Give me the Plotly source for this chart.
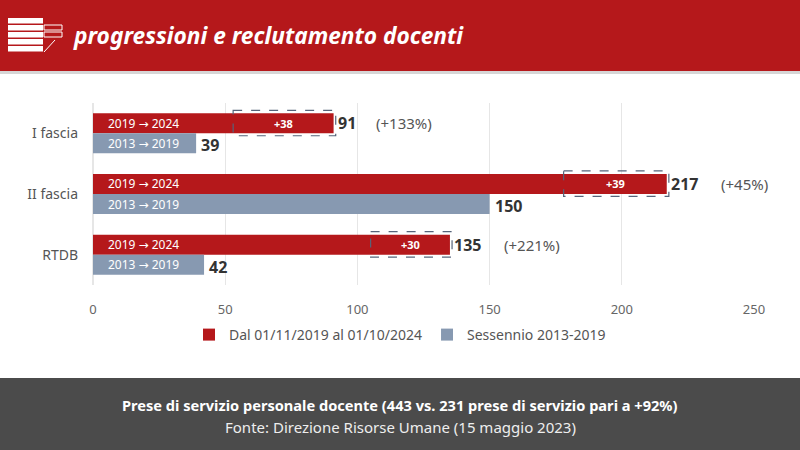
import plotly.graph_objects as go

categories = ["I fascia", "II fascia", "RTDB"]
recent_name = "Dal 01/11/2019 al 01/10/2024"
old_name = "Sessennio 2013-2019"
recent_values = [91, 217, 135]
old_values = [39, 150, 42]
last_year_delta = [38, 39, 30]
growth_labels = ["(+133%)", "(+45%)", "(+221%)"]
recent_bar_label = "2019 → 2024"
old_bar_label = "2013 → 2019"
x_ticks = [0, 50, 100, 150, 200, 250]

RED = "#b5181b"
SLATE = "#8799b1"
FONT = "Noto Sans"

# plot area in pixels
L, R, T, B = 93, 46, 103, 165
W, H = 800, 450
PW, PH = W - L - R, H - T - B


def px(x):
    return (x - L) / PW


def py(y):
    return (H - B - y) / PH


def arrow_label(s):
    a, b = s.split(" → ")
    return a + ' <span style="font-family:DejaVu Sans">→</span> ' + b


BARGAP = 0.34
half = (1 - BARGAP) / 2

fig = go.Figure()
fig.add_trace(go.Bar(
    y=categories, x=recent_values, orientation="h", name=recent_name,
    marker=dict(color=RED, line=dict(width=0)), hoverinfo="x"
))
fig.add_trace(go.Bar(
    y=categories, x=old_values, orientation="h", name=old_name,
    marker=dict(color=SLATE, line=dict(width=0)), hoverinfo="x"
))

shapes = []
annotations = []
for i, cat in enumerate(categories):
    yr = i - half / 2
    yo = i + half / 2
    annotations.append(dict(x=0, y=yr, text=arrow_label(recent_bar_label), xanchor="left", xshift=13,
                            showarrow=False, font=dict(color="white", size=12, family=FONT)))
    annotations.append(dict(x=0, y=yo, text=arrow_label(old_bar_label), xanchor="left", xshift=13,
                            showarrow=False, font=dict(color="white", size=12, family=FONT)))
    rv, ov, d = recent_values[i], old_values[i], last_year_delta[i]
    annotations.append(dict(x=rv, y=yr, text="<b>%d</b>" % rv, xanchor="left", xshift=2,
                            showarrow=False, font=dict(color="#333333", size=16, family=FONT)))
    annotations.append(dict(x=ov, y=yo + 0.03, text="<b>%d</b>" % ov, xanchor="left", xshift=3,
                            showarrow=False, font=dict(color="#333333", size=16, family=FONT)))
    annotations.append(dict(x=rv, y=yr, text=growth_labels[i], xanchor="left",
                            xshift=16 + 12 * len(str(rv)),
                            showarrow=False, font=dict(color="#555555", size=15, family=FONT)))
    annotations.append(dict(x=rv - d / 2, y=yr, text="<b>+%d</b>" % d, xanchor="center",
                            showarrow=False, font=dict(color="white", size=11, family=FONT)))
    shapes.append(dict(type="rect", xref="x", yref="y", x0=rv - d, x1=rv + 0.8,
                       y0=i - half - 0.05, y1=i + 0.04,
                       line=dict(color="#56647a", width=1.2, dash="dash")))

# header band
shapes.append(dict(type="rect", xref="paper", yref="paper", x0=px(0), x1=px(W), y0=py(74), y1=py(70),
                   fillcolor="#d6d6d6", line=dict(width=0), layer="below"))
shapes.append(dict(type="rect", xref="paper", yref="paper", x0=px(0), x1=px(W), y0=py(71), y1=py(0),
                   fillcolor=RED, line=dict(width=0), layer="below"))
# header icon
for k in range(5):
    y0 = 18 + k * 7
    shapes.append(dict(type="rect", xref="paper", yref="paper", x0=px(8), x1=px(43),
                       y0=py(y0 + 5.5), y1=py(y0), fillcolor="white", line=dict(width=0)))
shapes.append(dict(type="rect", xref="paper", yref="paper", x0=px(44), x1=px(62),
                   y0=py(30), y1=py(25), fillcolor="rgba(0,0,0,0)", line=dict(color="white", width=1)))
shapes.append(dict(type="rect", xref="paper", yref="paper", x0=px(44), x1=px(62),
                   y0=py(37), y1=py(32), fillcolor="rgba(0,0,0,0)", line=dict(color="white", width=1)))
shapes.append(dict(type="line", xref="paper", yref="paper", x0=px(44), x1=px(55),
                   y0=py(52), y1=py(40), line=dict(color="white", width=1)))
# footer band
shapes.append(dict(type="rect", xref="paper", yref="paper", x0=px(0), x1=px(W), y0=py(H), y1=py(378),
                   fillcolor="#4b4b4b", line=dict(width=0), layer="below"))

annotations.append(dict(xref="paper", yref="paper", x=px(71), y=py(35), xanchor="left", yanchor="middle",
                        text="<b><i>progressioni e reclutamento docenti</i></b>", showarrow=False,
                        font=dict(color="white", size=22.7, family=FONT)))
annotations.append(dict(xref="paper", yref="paper", x=px(400), y=py(405), xanchor="center", yanchor="middle",
                        text="<b>Prese di servizio personale docente (443 vs. 231 prese di servizio pari a +92%)</b>",
                        showarrow=False, font=dict(color="white", size=14.6, family=FONT)))
annotations.append(dict(xref="paper", yref="paper", x=px(400), y=py(427), xanchor="center", yanchor="middle",
                        text="Fonte: Direzione Risorse Umane (15 maggio 2023)",
                        showarrow=False, font=dict(color="#eeeeee", size=15, family=FONT)))

fig.update_layout(
    width=W, height=H,
    margin=dict(l=L, r=R, t=T, b=B, autoexpand=False),
    barmode="group", bargap=BARGAP, bargroupgap=0,
    plot_bgcolor="white", paper_bgcolor="white",
    font=dict(family=FONT, color="#555555", size=13),
    xaxis=dict(range=[0, 250], tickvals=x_ticks, showgrid=True, gridcolor="#e6e6e6", gridwidth=1,
               zeroline=True, zerolinecolor="#e6e6e6", showline=False, ticks="", automargin=False,
               ticklabelstandoff=15, tickfont=dict(size=13, color="#666666"), fixedrange=True),
    yaxis=dict(autorange="reversed", showgrid=False, ticks="", ticklabelstandoff=14, automargin=False,
               tickfont=dict(size=14, color="#555555"), fixedrange=True),
    legend=dict(orientation="h", xref="container", yref="container", x=0.5, xanchor="center",
                y=1 - 335 / H, yanchor="middle", font=dict(size=14, color="#555555"),
                traceorder="normal"),
    shapes=shapes,
    annotations=annotations,
    showlegend=True,
)

fig.write_html("out.html", config={"displayModeBar": False},
               post_script="document.body.style.margin='0';")
